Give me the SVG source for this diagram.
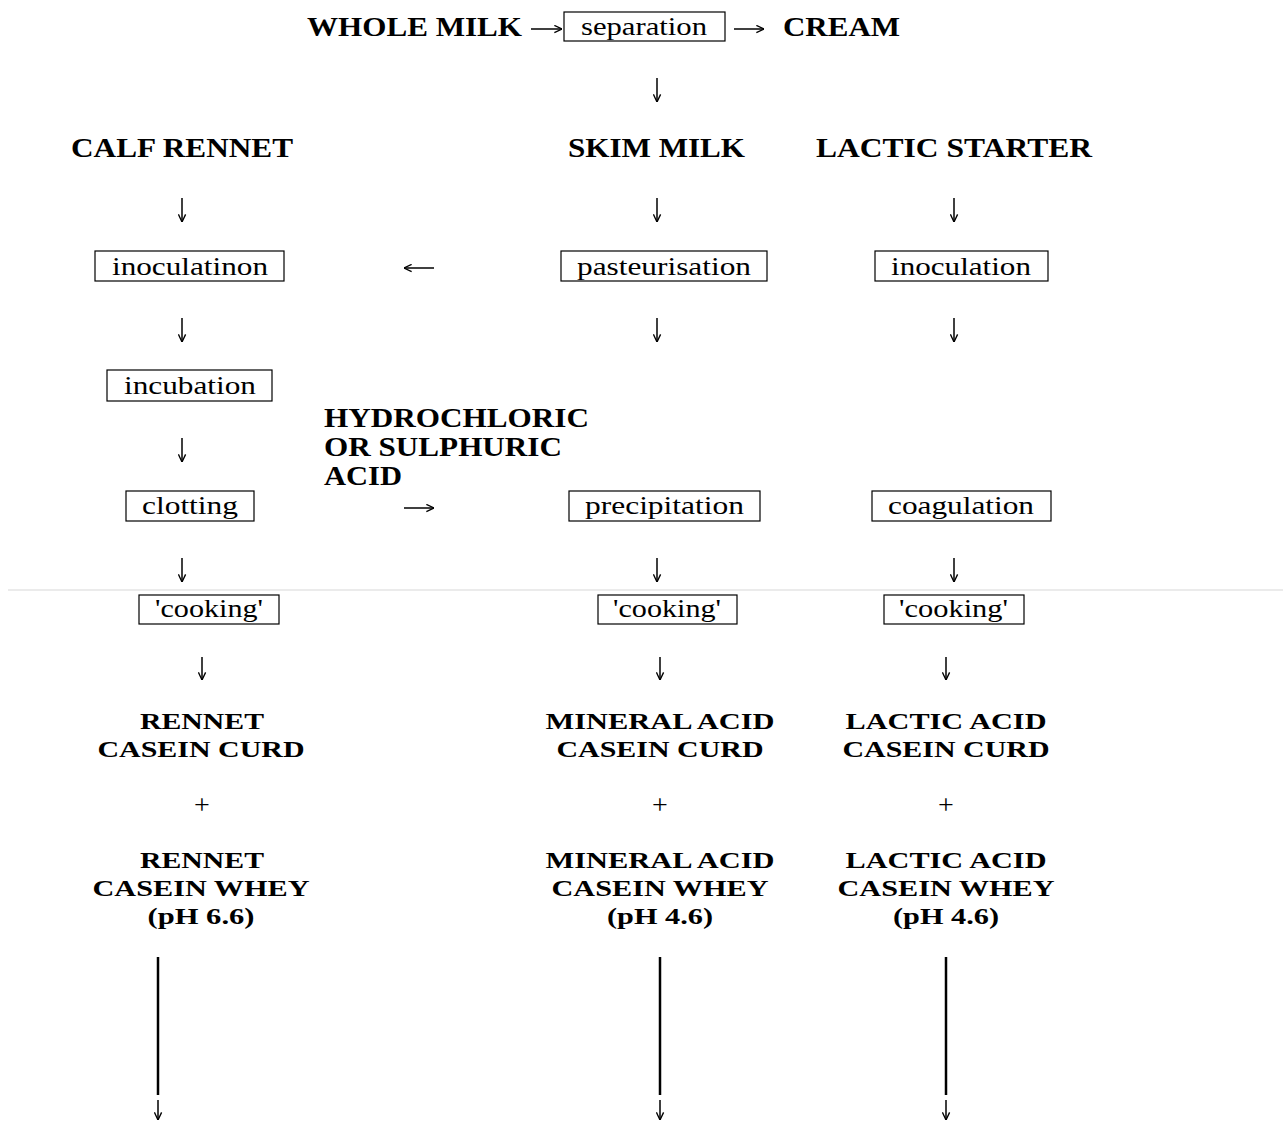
<svg xmlns="http://www.w3.org/2000/svg" width="1283" height="1121" viewBox="0 0 1283 1121">
<defs>
<marker id="ah" viewBox="0 0 10 10" refX="9.5" refY="5" markerWidth="9" markerHeight="9" markerUnits="userSpaceOnUse" orient="auto">
<path d="M1,1 L9.5,5 L1,9" fill="none" stroke="#000" stroke-width="1.5"/>
</marker>
</defs>
<style>
.b{font-family:"Liberation Serif","Times New Roman",serif;font-weight:bold;font-size:28px;fill:#000}
.bs{font-family:"Liberation Serif","Times New Roman",serif;font-weight:bold;font-size:24px;fill:#000;text-anchor:middle}
.r{font-family:"Liberation Serif","Times New Roman",serif;font-size:26px;fill:#000}
.p{font-family:"Liberation Serif","Times New Roman",serif;font-size:28px;fill:#000;text-anchor:middle}
.box{fill:#fff;stroke:#000;stroke-width:1.2}
.c line{stroke:#000;stroke-width:1.5;marker-end:url(#ah)}
.c line.long{stroke-width:2.5;marker-end:none}
</style>
<rect width="1283" height="1121" fill="#fff"/>
<line x1="8" y1="590" x2="1283" y2="590" stroke="#e4e4e4" stroke-width="1.5"/>

<g id="whole-milk"><text class="b" x="307" y="36" textLength="215" lengthAdjust="spacingAndGlyphs">WHOLE MILK</text></g>
<g id="separation"><rect class="box" x="564" y="12" width="161" height="29"/><text class="r" x="581" y="35" textLength="126" lengthAdjust="spacingAndGlyphs">separation</text></g>
<g id="cream"><text class="b" x="783" y="36" textLength="117" lengthAdjust="spacingAndGlyphs">CREAM</text></g>

<g id="calf-rennet"><text class="b" x="71" y="157" textLength="222" lengthAdjust="spacingAndGlyphs">CALF RENNET</text></g>
<g id="skim-milk"><text class="b" x="568" y="157" textLength="177" lengthAdjust="spacingAndGlyphs">SKIM MILK</text></g>
<g id="lactic-starter"><text class="b" x="816" y="157" textLength="276" lengthAdjust="spacingAndGlyphs">LACTIC STARTER</text></g>

<g id="inoculatinon"><rect class="box" x="95" y="251" width="189" height="30"/><text class="r" x="112" y="275" textLength="156" lengthAdjust="spacingAndGlyphs">inoculatinon</text></g>
<g id="pasteurisation"><rect class="box" x="561" y="251" width="206" height="30"/><text class="r" x="577" y="275" textLength="174" lengthAdjust="spacingAndGlyphs">pasteurisation</text></g>
<g id="inoculation"><rect class="box" x="875" y="251" width="173" height="30"/><text class="r" x="891" y="275" textLength="140" lengthAdjust="spacingAndGlyphs">inoculation</text></g>

<g id="incubation"><rect class="box" x="107" y="370" width="165" height="31"/><text class="r" x="124" y="394" textLength="132" lengthAdjust="spacingAndGlyphs">incubation</text></g>

<g id="acid-label">
<text class="b" x="324" y="427" textLength="265" lengthAdjust="spacingAndGlyphs">HYDROCHLORIC</text>
<text class="b" x="324" y="456" textLength="238" lengthAdjust="spacingAndGlyphs">OR SULPHURIC</text>
<text class="b" x="324" y="485" textLength="78" lengthAdjust="spacingAndGlyphs">ACID</text>
</g>

<g id="clotting"><rect class="box" x="126" y="491" width="128" height="30"/><text class="r" x="142" y="514" textLength="96" lengthAdjust="spacingAndGlyphs">clotting</text></g>
<g id="precipitation"><rect class="box" x="569" y="491" width="191" height="30"/><text class="r" x="585" y="514" textLength="159" lengthAdjust="spacingAndGlyphs">precipitation</text></g>
<g id="coagulation"><rect class="box" x="872" y="491" width="179" height="30"/><text class="r" x="888" y="514" textLength="146" lengthAdjust="spacingAndGlyphs">coagulation</text></g>

<g id="cooking-rennet"><rect class="box" x="139" y="595" width="140" height="29"/><text class="r" x="155" y="617" textLength="108" lengthAdjust="spacingAndGlyphs">'cooking'</text></g>
<g id="cooking-mineral"><rect class="box" x="598" y="595" width="139" height="29"/><text class="r" x="613" y="617" textLength="108" lengthAdjust="spacingAndGlyphs">'cooking'</text></g>
<g id="cooking-lactic"><rect class="box" x="884" y="595" width="140" height="29"/><text class="r" x="899" y="617" textLength="109" lengthAdjust="spacingAndGlyphs">'cooking'</text></g>

<g id="rennet-curd">
<text class="bs" x="202" y="729" textLength="124" lengthAdjust="spacingAndGlyphs">RENNET</text>
<text class="bs" x="201" y="757" textLength="207" lengthAdjust="spacingAndGlyphs">CASEIN CURD</text>
</g>
<g id="mineral-curd">
<text class="bs" x="660" y="729" textLength="229" lengthAdjust="spacingAndGlyphs">MINERAL ACID</text>
<text class="bs" x="660" y="757" textLength="207" lengthAdjust="spacingAndGlyphs">CASEIN CURD</text>
</g>
<g id="lactic-curd">
<text class="bs" x="946" y="729" textLength="201" lengthAdjust="spacingAndGlyphs">LACTIC ACID</text>
<text class="bs" x="946" y="757" textLength="207" lengthAdjust="spacingAndGlyphs">CASEIN CURD</text>
</g>

<g id="plus">
<text class="p" x="202" y="814">+</text>
<text class="p" x="660" y="814">+</text>
<text class="p" x="946" y="814">+</text>
</g>

<g id="rennet-whey">
<text class="bs" x="202" y="868" textLength="124" lengthAdjust="spacingAndGlyphs">RENNET</text>
<text class="bs" x="201" y="896" textLength="217" lengthAdjust="spacingAndGlyphs">CASEIN WHEY</text>
<text class="bs" x="201" y="924" textLength="107" lengthAdjust="spacingAndGlyphs">(pH 6.6)</text>
</g>
<g id="mineral-whey">
<text class="bs" x="660" y="868" textLength="229" lengthAdjust="spacingAndGlyphs">MINERAL ACID</text>
<text class="bs" x="660" y="896" textLength="217" lengthAdjust="spacingAndGlyphs">CASEIN WHEY</text>
<text class="bs" x="660" y="924" textLength="106" lengthAdjust="spacingAndGlyphs">(pH 4.6)</text>
</g>
<g id="lactic-whey">
<text class="bs" x="946" y="868" textLength="201" lengthAdjust="spacingAndGlyphs">LACTIC ACID</text>
<text class="bs" x="946" y="896" textLength="217" lengthAdjust="spacingAndGlyphs">CASEIN WHEY</text>
<text class="bs" x="946" y="924" textLength="106" lengthAdjust="spacingAndGlyphs">(pH 4.6)</text>
</g>

<g id="connectors" class="c">
<line x1="531" y1="29" x2="562" y2="29"/>
<line x1="734" y1="29" x2="764" y2="29"/>
<line x1="657" y1="78" x2="657" y2="102"/>
<line x1="182" y1="198" x2="182" y2="222"/>
<line x1="657" y1="198" x2="657" y2="222"/>
<line x1="954" y1="198" x2="954" y2="222"/>
<line x1="434" y1="268" x2="404" y2="268"/>
<line x1="182" y1="318" x2="182" y2="342"/>
<line x1="657" y1="318" x2="657" y2="342"/>
<line x1="954" y1="318" x2="954" y2="342"/>
<line x1="182" y1="438" x2="182" y2="462"/>
<line x1="404" y1="508" x2="434" y2="508"/>
<line x1="182" y1="558" x2="182" y2="582"/>
<line x1="657" y1="558" x2="657" y2="582"/>
<line x1="954" y1="558" x2="954" y2="582"/>
<line x1="202" y1="657" x2="202" y2="680"/>
<line x1="660" y1="657" x2="660" y2="680"/>
<line x1="946" y1="657" x2="946" y2="680"/>
<line class="long" x1="158" y1="957" x2="158" y2="1095"/>
<line class="long" x1="660" y1="957" x2="660" y2="1095"/>
<line class="long" x1="946" y1="957" x2="946" y2="1095"/>
<line x1="158" y1="1100" x2="158" y2="1120"/>
<line x1="660" y1="1100" x2="660" y2="1120"/>
<line x1="946" y1="1100" x2="946" y2="1120"/>
</g>
</svg>
